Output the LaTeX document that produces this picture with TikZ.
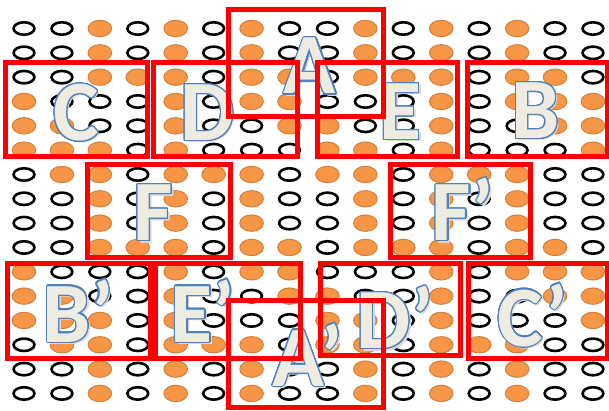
\documentclass[tikz,border=0pt]{standalone}
\usepackage{fontspec}
\usepackage{contour}
\newfontfamily\boxfont{Carlito}

\definecolor{holeorange}{HTML}{F79646}
\definecolor{holeedge}{HTML}{D2803C}
\definecolor{lettercream}{HTML}{EEECE1}
\definecolor{letteredge}{HTML}{4F81BD}

\contourlength{1.1pt}
\contournumber{24}

% big outlined letter with a soft shadow
\newcommand{\bigletter}[1]{%
  \rlap{\hspace{2.5pt}\raisebox{-2.5pt}{\textcolor{black!15}{#1}}}%
  \textcolor{lettercream}{\contour{letteredge}{#1}}}

\begin{document}
\begin{tikzpicture}[x=1pt,y=-1pt,
  hole/.style={draw=black, line width=2.6},
  filled/.style={fill=holeorange, draw=holeedge, line width=1},
  frame/.style={draw=red, line width=5},
  letter/.style={font=\boxfont\bfseries\fontsize{86}{86}\selectfont,
    inner sep=0pt, text height=54pt, text depth=0pt}]
  \useasboundingbox (0,0) rectangle (609,411);

  % grid of holes: 1 = filled, 0 = empty
  \foreach \row [count=\r from 0] in {
    {0,0,1,0,1,0,1,0,0,1,0,1,0,1,0,0},
    {0,0,1,0,1,0,1,0,0,1,0,1,0,1,0,0},
    {0,0,1,1,1,0,1,1,0,1,1,1,0,1,1,0},
    {1,0,0,0,1,0,1,1,0,0,0,1,0,1,1,1},
    {1,1,0,0,1,0,0,1,1,0,0,1,0,0,1,1},
    {1,1,1,0,1,0,0,0,1,1,0,1,0,0,0,1},
    {0,1,1,0,1,1,1,0,1,1,0,1,1,1,0,0},
    {0,0,1,0,1,0,1,0,0,1,0,1,0,1,0,0},
    {0,0,1,0,1,0,1,0,0,1,0,1,0,1,0,0},
    {0,0,1,1,1,0,1,1,0,1,1,1,0,1,1,0},
    {1,0,0,0,1,0,1,1,0,0,0,1,0,1,1,1},
    {1,1,0,0,1,0,0,1,1,0,0,1,0,0,1,1},
    {1,1,1,0,1,0,0,0,1,1,0,1,0,0,0,1},
    {0,1,1,0,1,1,1,0,1,1,0,1,1,1,0,0},
    {0,0,1,0,1,0,1,0,0,1,0,1,0,1,0,0},
    {0,0,1,0,1,0,1,0,0,1,0,1,0,1,0,0}}{
    \foreach \v [count=\c from 0] in \row {
      \pgfmathsetmacro\cx{24+37.93*\c}
      \pgfmathsetmacro\cy{28.5+24.33*\r}
      \ifnum\v=1
        \draw[filled] (\cx,\cy) ellipse (11.8 and 8.2);
      \else
        \draw[hole] (\cx,\cy) ellipse (10.4 and 6.2);
      \fi
    }
  }

  % letters
  \node[letter] (labA)  at (310,67)     {\bigletter{A}};
  \node[letter] (labC)  at (76,113.5)   {\bigletter{C}};
  \node[letter] (labD)  at (207.5,113.5) {\bigletter{D}};
  \node[letter] (labE)  at (400.5,112.5) {\bigletter{E}};
  \node[letter] (labB)  at (535.5,111.5) {\bigletter{B}};
  \node[letter] (labF)  at (153.5,213.5) {\bigletter{F}};
  \node[letter] (labFp) at (463,213.5)   {\bigletter{F’}};
  \node[letter] (labBp) at (78,315)      {\bigletter{B’}};
  \node[letter] (labEp) at (203,315)     {\bigletter{E’}};
  \node[letter] (labDp) at (395,321.5)   {\bigletter{D’}};
  \node[letter] (labCp) at (532.5,319)   {\bigletter{C’}};
  \node[letter] (labAp) at (307.5,359)   {\bigletter{A’}};

  % red frames
  \draw[frame] (228,10)  rectangle (383,117);
  \draw[frame] (5,63)    rectangle (147,157);
  \draw[frame] (153,63)  rectangle (297,157);
  \draw[frame] (317,63)  rectangle (457,157);
  \draw[frame] (467,63)  rectangle (607,157);
  \draw[frame] (87,165)  rectangle (230,257);
  \draw[frame] (390,165) rectangle (530,257);
  \draw[frame] (7,263)   rectangle (150,358);
  \draw[frame] (155,263) rectangle (300,358);
  \draw[frame] (320,263) rectangle (460,355);
  \draw[frame] (468,263) rectangle (607,358);
  \draw[frame] (228,300) rectangle (383,407);
\end{tikzpicture}
\end{document}
